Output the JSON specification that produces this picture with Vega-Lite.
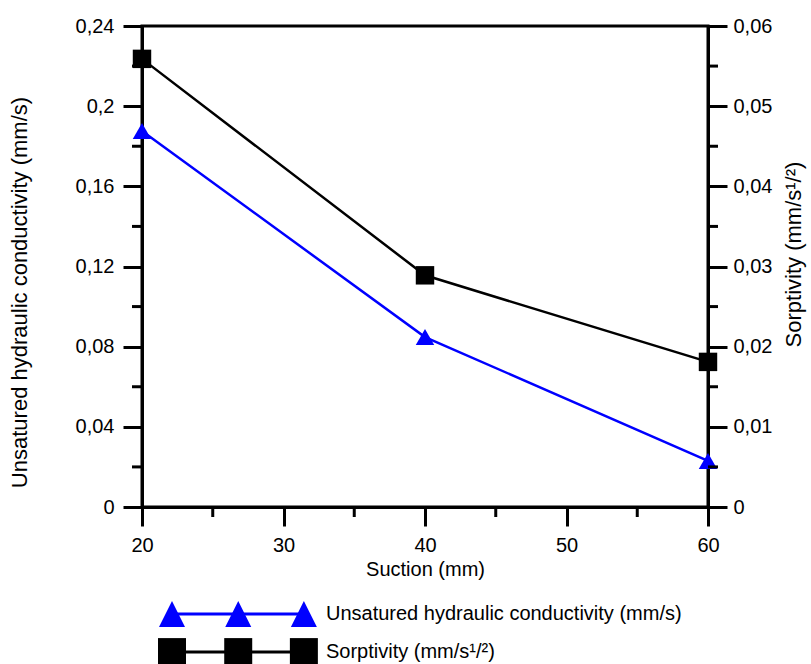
{
  "$schema": "https://vega.github.io/schema/vega-lite/v6.json",
  "padding": {"left": 6, "top": 14, "right": 5, "bottom": 0},
  "background": "white",
  "config": {
    "font": "Liberation Sans",
    "view": {"stroke": "black", "strokeWidth": 3},
    "axis": {
      "domainColor": "black", "domainWidth": 3,
      "tickColor": "black", "tickWidth": 3, "tickSize": 19,
      "labelColor": "black", "titleColor": "black",
      "labelFont": "Liberation Sans", "titleFont": "Liberation Sans",
      "labelFontSize": 20, "titleFontSize": 22, "titleFontWeight": "normal",
      "labelFlush": false,
      "grid": false, "zindex": 1
    }
  },
  "spacing": 10,
  "vconcat": [
    {
      "width": 566,
      "height": 481,
      "layer": [
        {
          "data": {"values": [
            {"suction": 20, "conductivity": 0.1876, "sorptivity": 0.0559},
            {"suction": 40, "conductivity": 0.0848, "sorptivity": 0.0289},
            {"suction": 60, "conductivity": 0.023, "sorptivity": 0.0181}
          ]},
          "encoding": {
            "x": {
              "field": "suction", "type": "quantitative",
              "scale": {"domain": [20, 60], "nice": false, "zero": false},
              "axis": {
                "values": [20, 30, 40, 50, 60],
                "labelPadding": 9,
                "title": "Suction (mm)", "titleFontSize": 20, "titlePadding": 4
              }
            },
            "y": {
              "field": "conductivity", "type": "quantitative",
              "scale": {"domain": [0, 0.24], "nice": false},
              "axis": {
                "orient": "left",
                "values": [0, 0.04, 0.08, 0.12, 0.16, 0.2, 0.24],
                "labelExpr": "replace(format(datum.value, '~g'), '.', ',')",
                "labelPadding": 9,
                "title": "Unsatured hydraulic conductivity (mm/s)",
                "titlePadding": 44,
                "titleY": 266
              }
            }
          },
          "layer": [
            {"mark": {"type": "line", "color": "#0000ff", "strokeWidth": 2.5}},
            {"mark": {"type": "point", "shape": "triangle-up", "filled": true, "color": "#0000ff", "size": 340, "opacity": 1}}
          ]
        },
        {
          "data": {"values": [
            {"suction": 20, "conductivity": 0.1876, "sorptivity": 0.0559},
            {"suction": 40, "conductivity": 0.0848, "sorptivity": 0.0289},
            {"suction": 60, "conductivity": 0.023, "sorptivity": 0.0181}
          ]},
          "encoding": {
            "x": {"field": "suction", "type": "quantitative"},
            "y": {
              "field": "sorptivity", "type": "quantitative",
              "scale": {"domain": [0, 0.06], "nice": false},
              "axis": {
                "orient": "right",
                "values": [0, 0.01, 0.02, 0.03, 0.04, 0.05, 0.06],
                "labelExpr": "replace(format(datum.value, '~g'), '.', ',')",
                "labelPadding": 6,
                "title": "Sorptivity (mm/s¹/²)",
                "titleAngle": 270,
                "titleBaseline": "top",
                "titlePadding": 12,
                "titleY": 228
              }
            }
          },
          "layer": [
            {"mark": {"type": "line", "color": "black", "strokeWidth": 2.5}},
            {"mark": {"type": "point", "shape": "square", "filled": true, "color": "black", "size": 340, "opacity": 1}}
          ]
        },
        {
          "data": {"values": [
            {"edge": 20, "tick": 0.02}, {"edge": 20, "tick": 0.06}, {"edge": 20, "tick": 0.1},
            {"edge": 20, "tick": 0.14}, {"edge": 20, "tick": 0.18}, {"edge": 20, "tick": 0.22}
          ]},
          "mark": {"type": "tick", "orient": "horizontal", "color": "black", "size": 10, "thickness": 3, "xOffset": -5, "opacity": 1},
          "encoding": {
            "x": {"field": "edge", "type": "quantitative"},
            "y": {"field": "tick", "type": "quantitative", "scale": {"domain": [0, 0.24], "nice": false}, "axis": null}
          }
        },
        {
          "data": {"values": [
            {"edge": 0, "tick": 25}, {"edge": 0, "tick": 35}, {"edge": 0, "tick": 45}, {"edge": 0, "tick": 55}
          ]},
          "mark": {"type": "tick", "orient": "vertical", "color": "black", "size": 10, "thickness": 3, "yOffset": 5, "opacity": 1},
          "encoding": {
            "x": {"field": "tick", "type": "quantitative"},
            "y": {"field": "edge", "type": "quantitative", "scale": {"domain": [0, 1], "nice": false}, "axis": null}
          }
        },
        {
          "data": {"values": [
            {"edge": 60, "tick": 0.005}, {"edge": 60, "tick": 0.015}, {"edge": 60, "tick": 0.025},
            {"edge": 60, "tick": 0.035}, {"edge": 60, "tick": 0.045}, {"edge": 60, "tick": 0.055}
          ]},
          "mark": {"type": "tick", "orient": "horizontal", "color": "black", "size": 10, "thickness": 3, "xOffset": 5, "opacity": 1},
          "encoding": {
            "x": {"field": "edge", "type": "quantitative"},
            "y": {"field": "tick", "type": "quantitative", "scale": {"domain": [0, 0.06], "nice": false}, "axis": null}
          }
        }
      ],
      "resolve": {"scale": {"y": "independent"}, "axis": {"y": "independent"}}
    },
    {
      "width": 566,
      "height": 84,
      "view": {"stroke": null},
      "encoding": {
        "x": {"field": "pos", "type": "quantitative", "scale": {"domain": [0, 1]}, "axis": null},
        "y": {"field": "row", "type": "quantitative", "scale": {"domain": [-0.6, 1.6]}, "axis": null}
      },
      "layer": [
        {
          "data": {"values": [
            {"series": "K", "pos": 0.053, "row": 1},
            {"series": "K", "pos": 0.17, "row": 1},
            {"series": "K", "pos": 0.286, "row": 1},
            {"series": "S", "pos": 0.053, "row": 0},
            {"series": "S", "pos": 0.17, "row": 0},
            {"series": "S", "pos": 0.286, "row": 0}
          ]},
          "layer": [
            {
              "mark": {"type": "line", "strokeWidth": 3},
              "encoding": {
                "color": {"field": "series", "type": "nominal", "scale": {"domain": ["K", "S"], "range": ["#0000ff", "black"]}, "legend": null}
              }
            },
            {
              "mark": {"type": "point", "filled": true, "opacity": 1},
              "encoding": {
                "color": {"field": "series", "type": "nominal", "scale": {"domain": ["K", "S"], "range": ["#0000ff", "black"]}, "legend": null},
                "shape": {"field": "series", "type": "nominal", "scale": {"domain": ["K", "S"], "range": ["M0,-1L1,1L-1,1Z", "square"]}, "legend": null},
                "size": {"field": "series", "type": "nominal", "scale": {"domain": ["K", "S"], "range": [676, 784]}, "legend": null}
              }
            }
          ]
        },
        {
          "data": {"values": [
            {"pos": 0.325, "row": 1, "label": "Unsatured hydraulic conductivity (mm/s)"},
            {"pos": 0.325, "row": 0, "label": "Sorptivity (mm/s¹/²)"}
          ]},
          "mark": {"type": "text", "align": "left", "baseline": "middle", "fontSize": 20, "color": "black", "font": "Liberation Sans"},
          "encoding": {"text": {"field": "label"}}
        }
      ]
    }
  ]
}
